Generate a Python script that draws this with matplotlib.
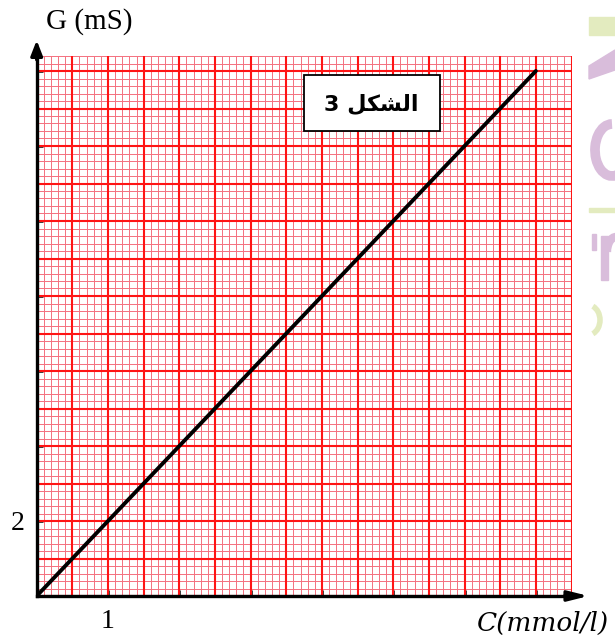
#!/usr/bin/env python3
"""
Graph paper plot: conductance G vs concentration C (figure 3)
"""
import numpy as np
import matplotlib
matplotlib.use('Agg')
import matplotlib.pyplot as plt
from matplotlib.patches import Rectangle, Polygon, Arc

# data
conc = [0, 7]          # C (mmol/l)
cond = [0, 14]         # G (mS)
x_ticks = [1, 2, 3, 4, 5, 6, 7]
x_tick_labels = ['1', '', '', '', '', '', '']
y_ticks = [2, 4, 6, 8, 10, 12, 14]
y_tick_labels = ['2', '', '', '', '', '', '']

W, H = 615, 639
fig = plt.figure(figsize=(W / 100, H / 100), dpi=100)
fig.patch.set_facecolor('white')

# axes placed in pixels of the reference
x0, x1 = 36.7, 571.5
y0, y1 = 596, 56
ax = fig.add_axes([x0 / W, (H - y0) / H, (x1 - x0) / W, (y0 - y1) / H])
ax.set_xlim(0, 7.5)
ax.set_ylim(0, 14.4)

# graph paper
minor_col = '#f4707f'
major_col = '#ff1414'
ax.vlines(np.arange(0, 7.51, 0.1), 0, 14.4, color=minor_col, lw=0.7, zorder=1)
ax.hlines(np.arange(0, 14.41, 0.2), 0, 7.5, color=minor_col, lw=0.7, zorder=1)
ax.vlines(np.arange(0, 7.51, 0.5), 0, 14.4, color=major_col, lw=1.5, zorder=2)
ax.hlines(np.arange(0, 14.41, 1.0), 0, 7.5, color=major_col, lw=1.5, zorder=2)

# the measured line
ax.plot(conc, cond, color='black', lw=2.8, solid_capstyle='round', zorder=5)

# spines / axes
for s in ['top', 'right']:
    ax.spines[s].set_visible(False)
for s in ['left', 'bottom']:
    ax.spines[s].set_linewidth(2.4)
    ax.spines[s].set_color('black')
    ax.spines[s].set_zorder(6)

ax.annotate('', xy=(0, 14.82), xytext=(0, 14.3), annotation_clip=False,
            arrowprops=dict(arrowstyle='-|>,head_length=0.9,head_width=0.35',
                            lw=2.4, color='black', shrinkA=0, shrinkB=0))
ax.annotate('', xy=(7.74, 0), xytext=(7.4, 0), annotation_clip=False,
            arrowprops=dict(arrowstyle='-|>,head_length=1.2,head_width=0.3',
                            lw=2.4, color='black', shrinkA=0, shrinkB=0))

ax.set_xticks(x_ticks)
ax.set_xticklabels(x_tick_labels, fontfamily='Liberation Serif', fontsize=20)
ax.set_yticks(y_ticks)
ax.set_yticklabels(y_tick_labels, fontfamily='Liberation Serif', fontsize=20)
ax.tick_params(axis='both', direction='in', length=4, width=1.8, color='black')
ax.tick_params(axis='x', pad=9)
ax.tick_params(axis='y', pad=9)

# axis titles
fig.text(89 / W, 1 - 22 / H, 'G (mS)', ha='center', va='center',
         fontfamily='Liberation Serif', fontsize=21)
fig.text(543 / W, 1 - 623 / H, 'C(mmol/l)', ha='center', va='center',
         fontfamily='DejaVu Serif', style='italic', fontsize=19)

# label box "figure 3"
ax.add_patch(Rectangle((3.75, 12.40), 1.91, 1.48, facecolor='white',
                       edgecolor='black', lw=1.3, zorder=7))
label = '3 ' + '\uFEDE\uFEDC\uFEB8\uFEDF\uFE8D'
ax.text(4.69, 13.12, label, ha='center', va='center', fontsize=16,
        fontweight='bold', family=['DejaVu Sans'], zorder=8)

# watermark fragments at the right edge (drawn as shapes)
wm_green = '#e3ebbf'
wm_purple = '#d9bddb'
tf = fig.transFigure
fig.patches.append(Rectangle((589 / W, 1 - 35 / H), 26 / W, 18 / H,
                             transform=tf, color=wm_green))
fig.patches.append(Polygon([(589 / W, 1 - 66 / H), (615 / W, 1 - 50 / H),
                            (615 / W, 1 - 70 / H), (589 / W, 1 - 79 / H)],
                           closed=True, transform=tf, color=wm_purple))
fig.patches.append(Arc((612 / W, 1 - 150 / H), 34 / W, 52 / H, theta1=90, theta2=300,
                       transform=tf, color=wm_purple, lw=7))
fig.patches.append(Rectangle((589 / W, 1 - 212 / H), 26 / W, 4 / H,
                             transform=tf, color=wm_green))
fig.patches.append(Rectangle((592 / W, 1 - 250 / H), 4 / W, 16 / H,
                             transform=tf, color=wm_purple))
fig.patches.append(Rectangle((601 / W, 1 - 280 / H), 7 / W, 44 / H,
                             transform=tf, color=wm_purple))
fig.patches.append(Arc((616 / W, 1 - 252 / H), 18 / W, 30 / H, theta1=90, theta2=180,
                       transform=tf, color=wm_purple, lw=6))
fig.patches.append(Arc((588 / W, 1 - 320 / H), 24 / W, 30 / H, theta1=-70, theta2=70,
                       transform=tf, color=wm_green, lw=4))

fig.savefig('out.png', dpi=100, facecolor='white')
plt.close(fig)
